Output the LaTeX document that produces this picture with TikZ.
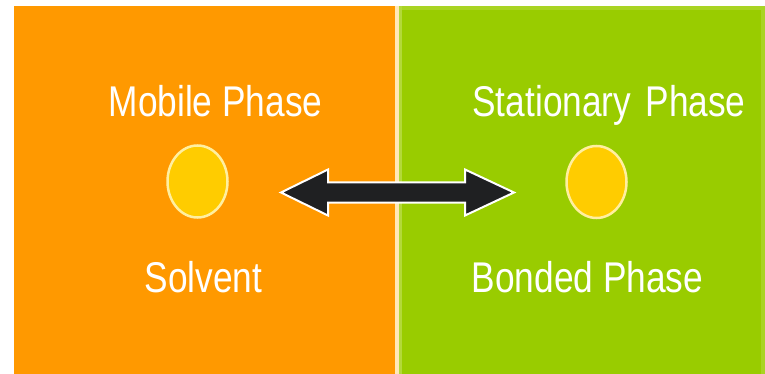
\documentclass[tikz,border=0pt]{standalone}
\usepackage{fontspec}
\usetikzlibrary{shapes.geometric,calc}
\newfontfamily\condfont[FakeStretch=0.82]{Liberation Sans}
\definecolor{orangebg}{HTML}{FF9900}
\definecolor{greenbg}{HTML}{99CC00}
\definecolor{creamsep}{HTML}{FFE9B8}
\definecolor{lightgreen}{HTML}{B3D93A}
\definecolor{dotfill}{HTML}{FFCC00}
\definecolor{dotedge}{HTML}{FFEFA0}
\definecolor{arrowdark}{HTML}{1F2022}
\tikzset{
  lbl/.style={text=white, font=\condfont\fontsize{43}{43}\selectfont, anchor=base, inner sep=0pt},
  dot/.style={ellipse, fill=dotfill, draw=dotedge, line width=2.5pt, minimum width=60pt, minimum height=72pt, inner sep=0pt},
  bigarrow/.style={fill=arrowdark, draw=white, line width=2pt, line join=miter}
}
\begin{document}
\begin{tikzpicture}[x=1pt,y=-1pt]
\useasboundingbox (0,0) rectangle (765,374);
\fill[white] (0,0) rectangle (765,374);
% panels
\fill[orangebg] (14,6) rectangle (395,374);
\fill[creamsep] (395,6) rectangle (399,374);
\fill[lightgreen] (399,6) rectangle (402,374);
\fill[greenbg] (402,6) rectangle (765,374);
\fill[lightgreen!60!greenbg] (402,6) rectangle (765,10);
\fill[lightgreen!60!greenbg] (761,6) rectangle (765,374);
% labels
\node[lbl] (mobile) at (215.5,117) {Mobile Phase};
\node[lbl] (solvent) at (203.5,292) {Solvent};
\node[lbl] (stationary) at (609,117) {Stationary\,\,Phase};
\node[lbl] (bonded) at (587.5,292) {Bonded Phase};
% dots
\node[dot] (ldot) at (197.5,181.5) {};
\node[dot] (rdot) at (596.5,182) {};
% double arrow
\coordinate (L) at (281,192.5);
\coordinate (R) at (514,192.5);
\draw[bigarrow] (L) -- ($(L)+(47,-23)$) -- ($(L)+(47,-10)$) -- ($(R)+(-49,-10)$) -- ($(R)+(-49,-23)$)
  -- (R) -- ($(R)+(-49,23)$) -- ($(R)+(-49,10)$) -- ($(L)+(47,10)$) -- ($(L)+(47,23)$) -- cycle;
\end{tikzpicture}
\end{document}
